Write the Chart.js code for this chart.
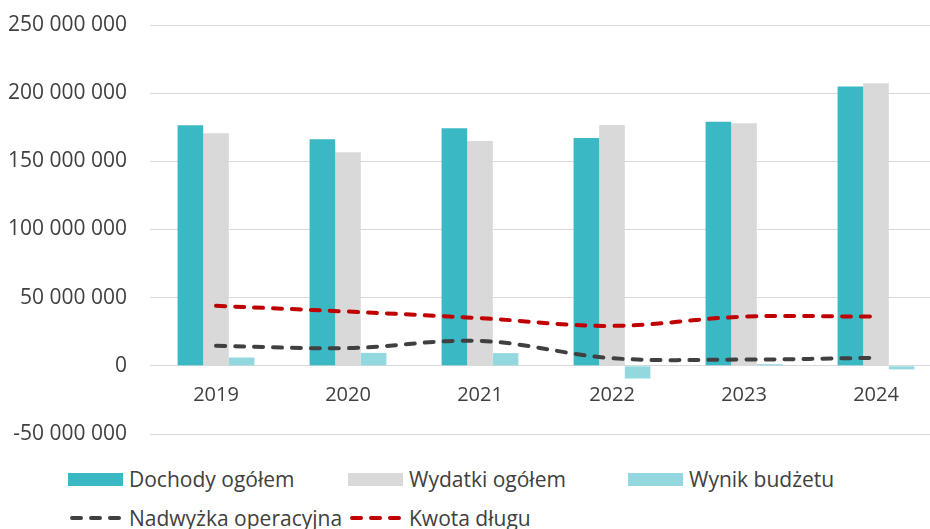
<!DOCTYPE html>
<html lang="pl">
<head>
<meta charset="utf-8">
<title>Dochody, wydatki i dług 2019–2024</title>
<script src="https://cdn.jsdelivr.net/npm/chart.js@4.4.1/dist/chart.umd.min.js"></script>
<style>
  html, body { margin: 0; padding: 0; background: #fff; overflow: hidden; }
  body { width: 930px; height: 529px; position: relative; font-family: "Open Sans", sans-serif; color: #404040; }
  #wrap { position: absolute; left: 0; top: 0; width: 944px; height: 450px; }
  #legend { position: absolute; left: 68px; top: 466px; display: grid; grid-template-columns: 280px 280px 280px; row-gap: 13px; font-size: 21px; }
  .item { display: flex; align-items: center; height: 26px; white-space: nowrap; }
  .swatch { display: inline-block; width: 55px; height: 13px; margin-right: 6px; }
  .dash { display: block; margin-right: 6px; }
</style>
</head>
<body>
<div id="wrap"><canvas id="chart" width="944" height="450"></canvas></div>
<div id="legend"></div>
<script>
// lata i wartości (zł)
const years = ['2019', '2020', '2021', '2022', '2023', '2024'];
const dochody = [176.5e6, 166.2e6, 174.3e6, 167.2e6, 179.1e6, 204.8e6];
const wydatki = [170.6e6, 156.7e6, 165.0e6, 176.7e6, 177.9e6, 207.2e6];
const wynik = [6.1e6, 9.5e6, 9.3e6, -9.3e6, 1.2e6, -2.6e6];
const nadwyzka = [14.7e6, 13.0e6, 18.3e6, 5.6e6, 4.6e6, 5.9e6];
const dlug = [44.0e6, 39.8e6, 35.0e6, 29.3e6, 36.1e6, 36.1e6];

// oś Y
const yMin = -50e6;
const yMax = 250e6;
const yStep = 50e6;

const TEXT = '#404040';
const FONT = { family: '"Open Sans", sans-serif', size: 21 };
const YEAR_FONT = { family: '"Open Sans", sans-serif', size: 20 };

function fmt(v) {
  const s = String(Math.abs(Math.round(v))).replace(/\B(?=(\d{3})+(?!\d))/g, ' ');
  return (v < 0 ? '-' : '') + s;
}

const lineStyle = {
  type: 'line',
  borderWidth: 4,
  borderDash: [9, 10],
  borderCapStyle: 'round',
  pointRadius: 0,
  pointHoverRadius: 0,
  tension: 0.35,
  fill: false,
  order: 0,
};

const chart = new Chart(document.getElementById('chart'), {
  type: 'bar',
  data: {
    labels: years,
    datasets: [
      { label: 'Dochody ogółem', data: dochody, backgroundColor: '#3AB8C3', order: 1 },
      { label: 'Wydatki ogółem', data: wydatki, backgroundColor: '#D9D9D9', order: 1 },
      { label: 'Wynik budżetu', data: wynik, backgroundColor: '#92D8DE', order: 1 },
      { ...lineStyle, label: 'Nadwyżka operacyjna', data: nadwyzka, borderColor: '#404040', backgroundColor: '#404040' },
      { ...lineStyle, label: 'Kwota długu', data: dlug, borderColor: '#C00000', backgroundColor: '#C00000' },
    ],
  },
  options: {
    responsive: false,
    animation: false,
    categoryPercentage: 0.582,
    barPercentage: 1,
    layout: { padding: { top: 25, right: 2, bottom: 16, left: 0 } },
    plugins: {
      legend: { display: false },
      tooltip: { enabled: false },
    },
    scales: {
      x: {
        position: { y: 0 },
        grid: { display: false, drawTicks: false },
        border: { display: false },
        ticks: { color: TEXT, font: YEAR_FONT, padding: 17, maxRotation: 0 },
      },
      y: {
        min: yMin,
        max: yMax,
        grid: { color: '#D9D9D9', lineWidth: 1, drawTicks: false },
        border: { display: false },
        ticks: { stepSize: yStep, color: TEXT, font: FONT, padding: 23, callback: v => fmt(v) },
        // stała szerokość osi; odstęp etykiet liczony tylko w poziomie
        afterFit: s => {
          s.width = 150;
          s.paddingTop = 12;
          s.paddingBottom = 12;
        },
      },
    },
  },
});

// legenda w HTML: stałe kolumny jak w arkuszu
function buildLegend(c) {
  const el = document.getElementById('legend');
  el.innerHTML = c.data.datasets.map(ds => {
    let sample;
    if (ds.type === 'line') {
      sample = `<svg class="dash" width="55" height="10"><line x1="4" y1="5" x2="51" y2="5" stroke="${ds.borderColor}" stroke-width="4" stroke-linecap="round" stroke-dasharray="${ds.borderDash.join(' ')}"/></svg>`;
    } else {
      sample = `<span class="swatch" style="background:${ds.backgroundColor}"></span>`;
    }
    return `<div class="item">${sample}<span>${ds.label}</span></div>`;
  }).join('');
}
buildLegend(chart);
</script>
</body>
</html>
